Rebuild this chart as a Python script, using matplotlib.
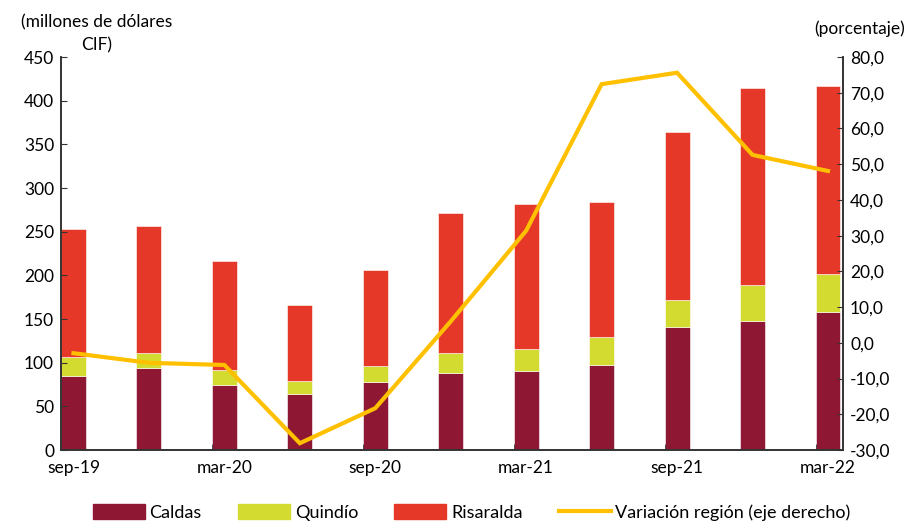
import matplotlib
matplotlib.use("Agg")
import matplotlib.pyplot as plt
from matplotlib.ticker import FuncFormatter
from matplotlib.patches import Patch
from matplotlib.lines import Line2D
import numpy as np

plt.rcParams['font.family'] = ['Lato', 'DejaVu Sans']

# datos (millones de dólares CIF y variación anual %)
trimestres = ["sep-19", "dic-19", "mar-20", "jun-20", "sep-20", "dic-20",
              "mar-21", "jun-21", "sep-21", "dic-21", "mar-22"]
caldas = [85, 93.5, 75, 64.5, 77.5, 88, 91, 97, 141, 148, 158]
quindio = [21, 17.5, 17, 14.5, 19, 23, 25, 32, 31, 41, 43]
risaralda = [147, 146, 124, 87, 110, 160, 166, 155, 192, 225, 216]
variacion = [-2.9, -5.6, -6.2, -28.1, -18.3, 6.0, 31.4, 72.4, 75.6, 52.6, 48.1]

c_caldas = "#8E1733"
c_quindio = "#D4DB30"
c_risaralda = "#E53828"
c_linea = "#FFC000"
gris = "#333333"
fs = 12.5

fig = plt.figure(figsize=(9.07, 5.24), dpi=100)
ax = fig.add_axes([0.0673, 0.1412, 0.8622, 0.75])

x = np.arange(len(trimestres))
w = 0.33
base2 = np.array(caldas)
base3 = base2 + np.array(quindio)
ax.bar(x, caldas, w, color=c_caldas, edgecolor="white", linewidth=0.4)
ax.bar(x, quindio, w, bottom=base2, color=c_quindio, edgecolor="white", linewidth=0.4)
ax.bar(x, risaralda, w, bottom=base3, color=c_risaralda, edgecolor="white", linewidth=0.4)

ax.set_ylim(0, 450)
ax.set_yticks(range(0, 451, 50))
ax.set_xlim(-w / 2, 10.2)
ax.set_xticks(x[::2])
ax.set_xticklabels(trimestres[::2])
ax.set_xticks(x[::2] - w / 2, minor=True)
ax.tick_params(axis="x", which="major", length=0, pad=7, labelsize=fs, colors="black")
ax.tick_params(axis="x", which="minor", length=4, direction="in", color=gris)
ax.tick_params(axis="y", length=4, direction="in", labelsize=fs, color=gris, pad=5)

ax2 = ax.twinx()
ax2.plot(x, variacion, color=c_linea, linewidth=3, solid_joinstyle="miter")
ax2.set_ylim(-30, 80)
ax2.set_yticks(range(-30, 81, 10))
ax2.yaxis.set_major_formatter(FuncFormatter(lambda v, p: f"{v:.1f}".replace(".", ",")))
ax2.tick_params(axis="y", length=4, direction="in", labelsize=fs, color=gris, pad=5)

for a in (ax, ax2):
    a.spines["top"].set_visible(False)
    for s in ("left", "right", "bottom"):
        a.spines[s].set_color(gris)
        a.spines[s].set_linewidth(1.2)

fig.text(0.106, 0.958, "(millones de dólares", ha="center", va="center", fontsize=fs)
fig.text(0.106, 0.914, "CIF)", ha="center", va="center", fontsize=fs)
fig.text(0.998, 0.946, "(porcentaje)", ha="right", va="center", fontsize=fs)

handles = [Patch(color=c_caldas), Patch(color=c_quindio), Patch(color=c_risaralda),
           Line2D([0], [0], color=c_linea, linewidth=3)]
labels = ["Caldas", "Quindío", "Risaralda", "Variación región (eje derecho)"]
fig.legend(handles, labels, loc="lower center", bbox_to_anchor=(0.52, -0.025), ncol=4,
           frameon=False, fontsize=fs + 0.5, handlelength=2.9, handleheight=0.85,
           columnspacing=2.0, handletextpad=0.25)

fig.savefig("out.png", dpi=100)
